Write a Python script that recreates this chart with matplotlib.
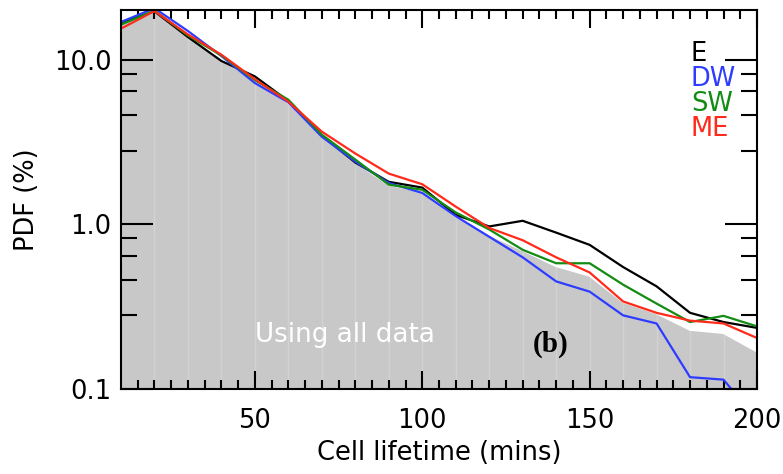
import numpy as np
import matplotlib.pyplot as plt
from matplotlib.ticker import FixedLocator, NullFormatter

# lifetime bins (mins) and PDF (%) per regime
lifetime = [10, 20, 30, 40, 50, 60, 70, 80, 90, 100,
            110, 120, 130, 140, 150, 160, 170, 180, 190, 200]
pdf_all = [16.6, 19.7, 13.9, 10.2, 7.5, 5.5, 3.45, 2.4, 1.75, 1.58,
           1.12, 0.87, 0.70, 0.56, 0.49, 0.34, 0.29, 0.23, 0.22, 0.17]
pdf_e = [16.8, 19.6, 13.7, 9.8, 7.9, 5.6, 3.45, 2.37, 1.81, 1.67,
         1.14, 0.97, 1.05, 0.89, 0.75, 0.55, 0.42, 0.29, 0.255, 0.235]
pdf_dw = [16.9, 20.5, 14.9, 10.5, 7.2, 5.5, 3.4, 2.4, 1.78, 1.55,
          1.12, 0.84, 0.63, 0.45, 0.39, 0.28, 0.25, 0.118, 0.114, 0.065]
pdf_sw = [16.3, 19.8, 14.0, 10.6, 7.5, 5.7, 3.5, 2.47, 1.74, 1.62,
          1.18, 0.93, 0.70, 0.58, 0.58, 0.43, 0.33, 0.255, 0.278, 0.24]
pdf_me = [15.4, 19.7, 14.2, 10.7, 7.6, 5.55, 3.65, 2.69, 2.03, 1.75,
          1.28, 0.95, 0.80, 0.63, 0.51, 0.34, 0.29, 0.26, 0.25, 0.204]

names = ['E', 'DW', 'SW', 'ME']
colors = ['black', '#2e3cff', '#128c12', '#ff2a1a']

fig = plt.figure(figsize=(7.83, 4.74), dpi=100)
ax = fig.add_axes([0.1545, 0.1793, 0.8123, 0.7997])

# all-data distribution as grey background
ax.fill_between(lifetime, 1e-3, pdf_all, color='#c8c8c8', lw=0, zorder=1)
ax.plot(lifetime, pdf_all, color='white', lw=2, zorder=2)
for xv in range(20, 200, 10):
    ax.axvline(xv, color='white', lw=1, alpha=0.2, zorder=1.5)

for vals, c in zip([pdf_e, pdf_dw, pdf_sw, pdf_me], colors):
    ax.plot(lifetime, vals, color=c, lw=1.6, zorder=3)

ax.set_yscale('log')
ax.set_xlim(10, 200)
ax.set_ylim(0.1, 20)

ax.xaxis.set_major_locator(FixedLocator([50, 100, 150, 200]))
ax.xaxis.set_minor_locator(FixedLocator(np.arange(15, 200, 5)))
ax.set_xticklabels(['50', '100', '150', '200'])
ax.yaxis.set_major_locator(FixedLocator([0.1, 1.0, 10.0]))
ax.yaxis.set_minor_locator(FixedLocator([0.28, 0.46, 0.64, 0.82, 2.8, 4.6, 6.4, 8.2]))
ax.yaxis.set_minor_formatter(NullFormatter())
ax.set_yticklabels(['0.1', '1.0', '10.0'])

ax.tick_params(which='both', direction='in', top=True, right=True,
               width=1.5, labelsize=18.5)
ax.tick_params(axis='x', which='major', length=13, pad=14)
ax.tick_params(axis='x', which='minor', length=6.5)
ax.tick_params(axis='y', which='major', length=23, pad=7)
ax.tick_params(axis='y', which='minor', length=11.5)
for s in ax.spines.values():
    s.set_linewidth(1.5)
    s.set_zorder(5)

ax.set_xlabel('Cell lifetime (mins)', fontsize=18.5, labelpad=4)
ax.set_ylabel('PDF (%)', fontsize=18.5, labelpad=10)

ypos = [0.8654, 0.7995, 0.7335, 0.6675]
for name, c, yy in zip(names, colors, ypos):
    ax.text(0.896, yy, name, color=c, fontsize=18.5, transform=ax.transAxes,
            va='baseline', ha='left')

ax.text(0.2107, 0.124, 'Using all data', color='white', fontsize=18.8,
        transform=ax.transAxes, va='baseline', ha='left', zorder=4)
ax.text(0.676, 0.0976, '(b)', family='Liberation Serif', weight='bold',
        fontsize=21, transform=ax.transAxes, va='baseline', ha='center', zorder=4)

fig.savefig('out.png', dpi=100)
